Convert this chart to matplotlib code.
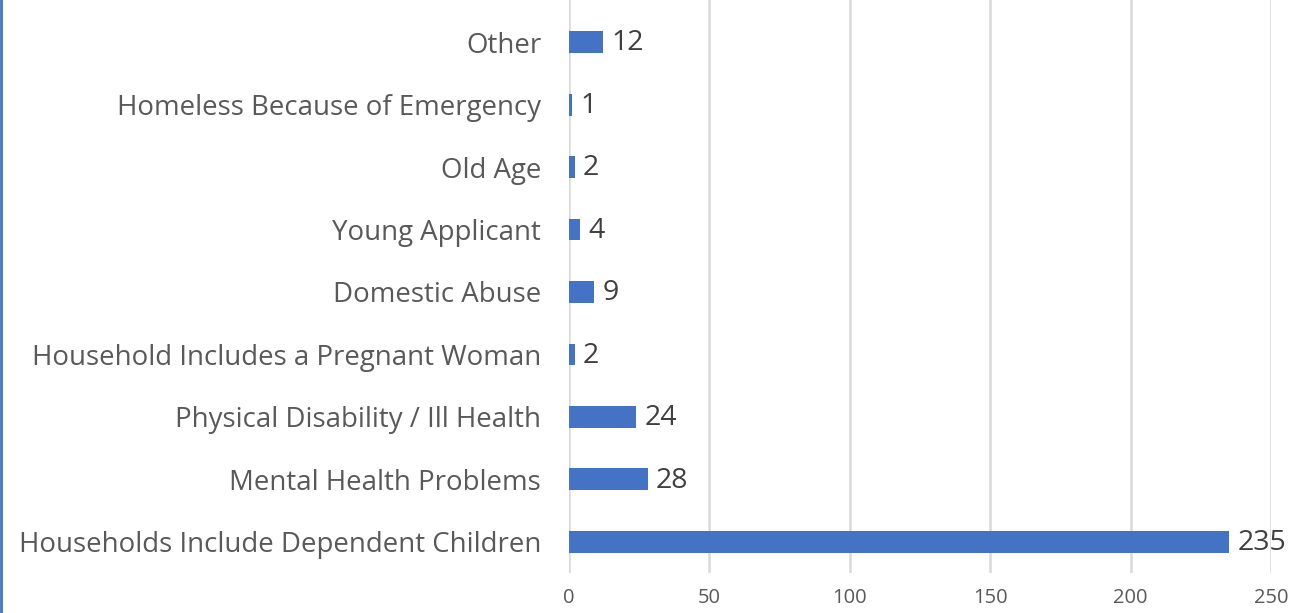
import matplotlib
matplotlib.use('Agg')
import matplotlib.pyplot as plt
from matplotlib.lines import Line2D

#  Chart data
categories = ['Households Include Dependent Children',
              'Mental Health Problems',
              'Physical Disability / Ill Health',
              'Household Includes a Pregnant Woman',
              'Domestic Abuse',
              'Young Applicant',
              'Old Age',
              'Homeless Because of Emergency',
              'Other']
counts = [235, 28, 24, 2, 9, 4, 2, 1, 12]
x_ticks = [0, 50, 100, 150, 200, 250]

plt.rcParams['font.family'] = ['Open Sans', 'DejaVu Sans']

fig = plt.figure(figsize=(13.15, 6.13), dpi=100)
ax = fig.add_axes([569 / 1315, 1 - 573 / 613, (1271 - 569) / 1315, 573 / 613])

pos = list(range(len(categories)))
bars = ax.barh(pos, counts, height=0.35, color='#4472C4', zorder=3)

#  Value labels
for p, v in zip(pos, counts):
    ax.text(v + 3, p - 0.02, str(v), va='center', ha='left', fontsize=20.5, color='#404040')

ax.set_xlim(0, 250)
ax.set_ylim(-0.5, 8.5 + 11 / 62.5)
ax.set_xticks(x_ticks)
ax.set_xticklabels([str(t) for t in x_ticks], fontsize=14.5, color='#595959')
ax.set_yticks(pos)
ax.set_yticklabels(categories, fontsize=19.9, color='#595959')
ax.tick_params(axis='both', length=0)
ax.tick_params(axis='y', pad=20)
ax.tick_params(axis='x', pad=11)

ax.grid(axis='x', color='#D9D9D9', linewidth=1.8, zorder=0)
for s in ax.spines.values():
    s.set_visible(False)

#  Chart border line on left edge
fig.add_artist(Line2D([0.001, 0.001], [0, 1], transform=fig.transFigure, color='#4472C4', linewidth=2))

fig.savefig('out.png', dpi=100)
